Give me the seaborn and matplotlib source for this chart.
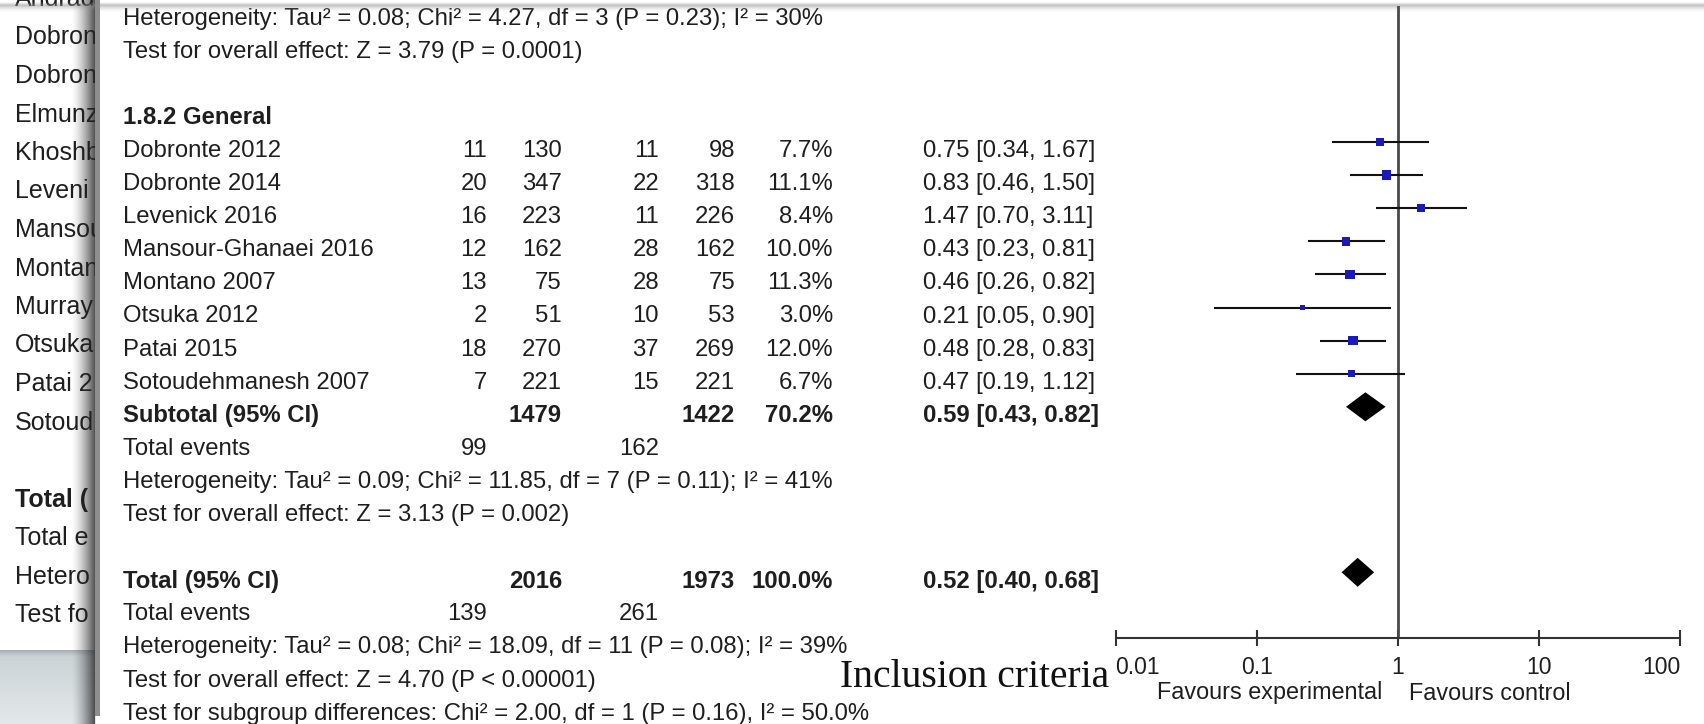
import numpy as np
import pandas as pd
import matplotlib
matplotlib.use("Agg")
import matplotlib.pyplot as plt
import seaborn as sns
from matplotlib.ticker import NullLocator
from matplotlib.patches import Rectangle

# ---------------- data ----------------
studies = ["Dobronte 2012", "Dobronte 2014", "Levenick 2016", "Mansour-Ghanaei 2016",
           "Montano 2007", "Otsuka 2012", "Patai 2015", "Sotoudehmanesh 2007"]
exp_events = [11, 20, 16, 12, 13, 2, 18, 7]
exp_total = [130, 347, 223, 162, 75, 51, 270, 221]
ctl_events = [11, 22, 11, 28, 28, 10, 37, 15]
ctl_total = [98, 318, 226, 162, 75, 53, 269, 221]
weights = [7.7, 11.1, 8.4, 10.0, 11.3, 3.0, 12.0, 6.7]
odds_ratio = [0.75, 0.83, 1.47, 0.43, 0.46, 0.21, 0.48, 0.47]
ci_low = [0.34, 0.46, 0.70, 0.23, 0.26, 0.05, 0.28, 0.19]
ci_high = [1.67, 1.50, 3.11, 0.81, 0.82, 0.90, 0.83, 1.12]

# pooled rows: [subtotal 1.8.2, overall total]
pooled_labels = ["Subtotal (95% CI)", "Total (95% CI)"]
pooled_exp_total = [1479, 2016]
pooled_ctl_total = [1422, 1973]
pooled_weight = [70.2, 100.0]
pooled_or = [0.59, 0.52]
pooled_low = [0.43, 0.40]
pooled_high = [0.82, 0.68]
pooled_exp_events = [99, 139]
pooled_ctl_events = [162, 261]

het_top = "Heterogeneity: Tau\u00b2 = 0.08; Chi\u00b2 = 4.27, df = 3 (P = 0.23); I\u00b2 = 30%"
test_top = "Test for overall effect: Z = 3.79 (P = 0.0001)"
subgroup_title = "1.8.2 General"
het_sub = "Heterogeneity: Tau\u00b2 = 0.09; Chi\u00b2 = 11.85, df = 7 (P = 0.11); I\u00b2 = 41%"
test_sub = "Test for overall effect: Z = 3.13 (P = 0.002)"
het_tot = "Heterogeneity: Tau\u00b2 = 0.08; Chi\u00b2 = 18.09, df = 11 (P = 0.08); I\u00b2 = 39%"
test_tot = "Test for overall effect: Z = 4.70 (P < 0.00001)"
test_subgroup = "Test for subgroup differences: Chi\u00b2 = 2.00, df = 1 (P = 0.16), I\u00b2 = 50.0%"

tick_values = [0.01, 0.1, 1, 10, 100]
tick_labels = ["0.01", "0.1", "1", "10", "100"]
favours_left = "Favours experimental"
favours_right = "Favours control"
caption = "Inclusion criteria"

# background slide (only the visible beginnings of its lines show on the left)
left_labels = ["Andrad", "Dobron", "Dobron", "Elmunz", "Khoshb", "Leveni", "Mansou",
               "Montan", "Murray", "Otsuka", "Patai 2", "Sotoud", "",
               "Total (", "Total e", "Hetero", "Test fo"]

# ---------------- style ----------------
sns.set_theme(style="white")
plt.rcParams['font.family'] = ['Liberation Sans', 'DejaVu Sans']

W, H = 1704, 724
fig = plt.figure(figsize=(W / 100, H / 100), dpi=100)
fig.patch.set_facecolor("white")

bg = fig.add_axes([0, 0, 1, 1])
bg.axis("off")
bg.set_zorder(0)

TXT_COL = "#1e1e1e"
FS = 17.2
ROW_H = 33.1
ROW0_TXT = 151.0
ROW0_MARK = 142.0


def ty(r):
    return ROW0_TXT + ROW_H * r


# ----- left background slide text -----
for k, lab in enumerate(left_labels):
    if not lab:
        continue
    bg.text(15, -1 + 38.5 * k, lab, fontsize=18, color=TXT_COL, va="center", ha="left",
            fontweight="bold" if lab.startswith("Total (") else "normal", zorder=1)

# bottom-left grey area of the slide background
grad_v = np.linspace(0, 1, 80)[:, None]
c_top = np.array([0.66, 0.69, 0.71])
c_mid = np.array([0.80, 0.83, 0.84])
c_bot = np.array([0.89, 0.91, 0.92])
col = np.where(grad_v < 0.08, c_top + (c_mid - c_top) * (grad_v / 0.08),
               c_mid + (c_bot - c_mid) * ((grad_v - 0.08) / 0.92))
img = np.repeat(col[:, None, :], 4, axis=1).reshape(80, 4, 3)
bg.imshow(img, extent=[0, 96, 724, 650], aspect="auto", zorder=1.5, interpolation="bilinear")

# white panel
bg.add_patch(Rectangle((100, 0), W - 100, H, facecolor="white", edgecolor="none", zorder=2))
# panel border band
bg.add_patch(Rectangle((95, 0), 5, 716, facecolor="#8e8e8e", edgecolor="none", zorder=2.6))
# shadow gradient left of panel
t = np.linspace(0, 1, 80)
alpha = 0.8 * t ** 1.5
sh = np.zeros((1, 80, 4))
sh[..., 0:3] = 0.15
sh[0, :, 3] = alpha
bg.imshow(sh, extent=[71, 95, 724, 0], aspect="auto", zorder=2.5, interpolation="bilinear")
# top edge shadow
tv = np.linspace(0, 1, 40)
top = np.zeros((40, 1, 4))
top[..., 0:3] = 0.55
top[:, 0, 3] = np.where(tv < 0.3, 0.55 * tv / 0.3, 0.55 * (1 - (tv - 0.3) / 0.7) ** 2)
bg.imshow(top, extent=[0, W, 13, 2], aspect="auto", zorder=6, interpolation="bilinear")

bg.set_xlim(0, W)
bg.set_ylim(H, 0)

# ----- table text -----
X_STUDY, X_EE, X_ET, X_CE, X_CT, X_W, X_OR = 123, 487, 562, 659, 735, 833, 923


def put(x, r, s, ha="left", bold=False):
    bg.text(x, ty(r), s, fontsize=FS, color=TXT_COL, va="center", ha=ha,
            fontweight="bold" if bold else "normal", zorder=5)


put(X_STUDY, -4, het_top)
put(X_STUDY, -3, test_top)
put(X_STUDY, -1, subgroup_title, bold=True)
for i, s in enumerate(studies):
    put(X_STUDY, i, s)
    put(X_EE, i, str(exp_events[i]), "right")
    put(X_ET, i, str(exp_total[i]), "right")
    put(X_CE, i, str(ctl_events[i]), "right")
    put(X_CT, i, str(ctl_total[i]), "right")
    put(X_W, i, f"{weights[i]:.1f}%", "right")
    put(X_OR, i, f"{odds_ratio[i]:.2f} [{ci_low[i]:.2f}, {ci_high[i]:.2f}]")

pooled_rows = [8, 13]
for j, r in enumerate(pooled_rows):
    put(X_STUDY, r, pooled_labels[j], bold=True)
    put(X_ET, r, str(pooled_exp_total[j]), "right", bold=True)
    put(X_CT, r, str(pooled_ctl_total[j]), "right", bold=True)
    put(X_W, r, f"{pooled_weight[j]:.1f}%", "right", bold=True)
    put(X_OR, r, f"{pooled_or[j]:.2f} [{pooled_low[j]:.2f}, {pooled_high[j]:.2f}]", bold=True)
    put(X_STUDY, r + 1, "Total events")
    put(X_EE, r + 1, str(pooled_exp_events[j]), "right")
    put(X_CE, r + 1, str(pooled_ctl_events[j]), "right")

put(X_STUDY, 10, het_sub)
put(X_STUDY, 11, test_sub)
put(X_STUDY, 15, het_tot)
put(X_STUDY, 16, test_tot)
put(X_STUDY, 17, test_subgroup)

# caption in serif
bg.text(840, 687, caption, fontsize=28.5, family=["Liberation Serif", "DejaVu Serif"],
        color="#111111", va="baseline", ha="left", zorder=5)

# favours labels
bg.text(1382, 693, favours_left, fontsize=16.8, color=TXT_COL, va="center", ha="right", zorder=5)
bg.text(1409, 693, favours_right, fontsize=16.8, color=TXT_COL, va="center", ha="left", zorder=5)

# ---------------- forest axes ----------------
X_LO_PX, X_HI_PX = 1115.5, 1680.0
TOP_PX, AXIS_PX = 6.0, 637.5
ax = fig.add_axes([X_LO_PX / W, 1 - AXIS_PX / H, (X_HI_PX - X_LO_PX) / W, (AXIS_PX - TOP_PX) / H])
ax.set_zorder(3)
ax.patch.set_alpha(0)

df = pd.DataFrame({"study": studies, "or": odds_ratio, "lo": ci_low, "hi": ci_high,
                   "w": weights, "row": np.arange(len(studies))})

ax.axvline(1, color="#4a4a4a", lw=2.0, zorder=2)
ax.hlines(df["row"], df["lo"], df["hi"], color="#111111", lw=1.5, zorder=3)
sns.scatterplot(data=df, x="or", y="row", size="w",
                sizes=(4.0 * min(weights), 4.0 * max(weights)),
                marker="s", color="#1a1ab8", linewidth=0, legend=False, ax=ax, zorder=4)

DH = 14.5 / ROW_H
for j, r in enumerate(pooled_rows):
    ax.fill([pooled_low[j], pooled_or[j], pooled_high[j], pooled_or[j]],
            [r, r - DH, r, r + DH], color="black", lw=0, zorder=4)

ax.set_xscale("log")
ax.set_xlim(0.01, 100)
ax.set_ylim((AXIS_PX - ROW0_MARK) / ROW_H, (TOP_PX - ROW0_MARK) / ROW_H)
ax.set_xlabel("")
ax.set_ylabel("")
ax.set_yticks([])
ax.set_xticks(tick_values)
ax.set_xticklabels(tick_labels)
ax.xaxis.set_minor_locator(NullLocator())
for s in ["left", "top", "right"]:
    ax.spines[s].set_visible(False)
ax.spines["bottom"].set_color("#333333")
ax.spines["bottom"].set_linewidth(1.5)
ax.tick_params(axis="x", which="major", direction="inout", length=11, width=1.5,
               color="#333333", labelsize=16.5, labelcolor=TXT_COL, pad=7.5, bottom=True)
ticks = ax.xaxis.get_major_ticks()
ticks[0].label1.set_horizontalalignment("left")
ticks[-1].label1.set_horizontalalignment("right")

fig.savefig("out.png", dpi=100, facecolor="white")
